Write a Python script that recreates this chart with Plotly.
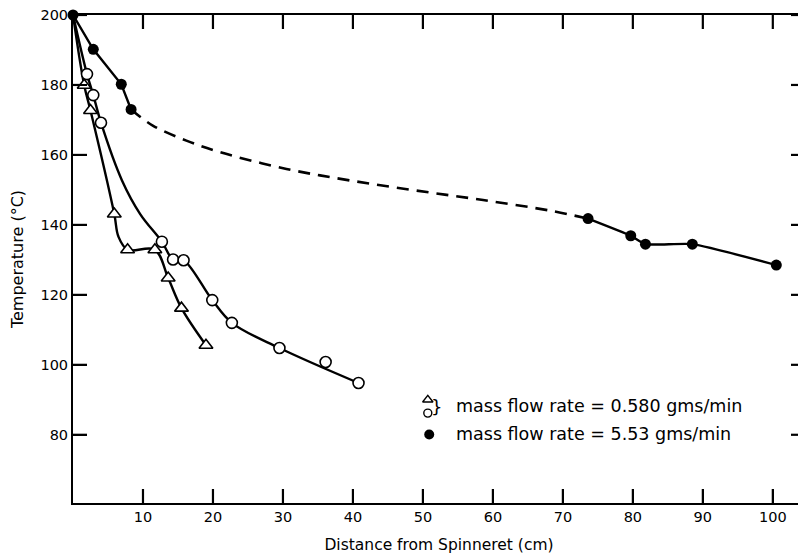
import plotly.graph_objects as go

# 0.580 gms/min, triangles
tri_x = [0, 1.6, 2.5, 5.9, 7.8, 11.7, 13.6, 15.5, 19.0]
tri_y = [200, 179.9, 172.7, 143.1, 132.9, 132.9, 124.8, 116.2, 105.6]

# 0.580 gms/min, open circles
circ_x = [0, 2.0, 2.9, 4.0, 12.7, 14.3, 15.8, 19.9, 22.7, 29.5, 36.1, 40.8]
circ_y = [200, 183.1, 177.1, 169.2, 135.2, 130.1, 129.9, 118.5, 112.0, 104.8, 100.8, 94.8]

# hand-drawn curve through the open circles
circ_curve_x = [0, 2.0, 2.9, 4.0, 7.0, 9.6, 12.7, 14.3, 15.8, 19.9, 22.7, 29.5, 40.8]
circ_curve_y = [200, 183.1, 177.1, 169.2, 152.7, 143.1, 135.2, 130.1, 129.9, 118.5, 112.0, 104.8, 94.8]

# hand-drawn curve through the triangles
tri_curve_x = [0, 1.6, 2.5, 5.9, 6.5, 7.8, 11.7, 13.6, 15.5, 19.0]
tri_curve_y = [200, 179.9, 172.7, 143.1, 136.6, 132.9, 132.9, 124.8, 116.2, 105.6]

# 5.53 gms/min, filled circles
fill_x = [0, 2.9, 6.9, 8.3, 73.6, 79.7, 81.8, 88.5, 100.5]
fill_y = [200, 190.2, 180.2, 173.0, 141.8, 136.9, 134.5, 134.5, 128.5]

# dashed extrapolation curve between measured 5.53 segments
dash_x = [8.3, 11.4, 16.2, 21.0, 30.5, 39.6, 49.1, 58.6, 68.1, 73.6]
dash_y = [173.0, 168.4, 164.1, 160.8, 156.0, 152.7, 149.8, 147.1, 144.1, 141.8]

x_ticks = [10, 20, 30, 40, 50, 60, 70, 80, 90, 100]
y_ticks = [80, 100, 120, 140, 160, 180, 200]

legend_labels = ["mass flow rate = 0.580 gms/min", "mass flow rate = 5.53 gms/min"]

FONT = "DejaVu Sans"
X_RANGE = [0, 104.6]
Y_RANGE = [60.5, 200]
fig = go.Figure()

# inward tick marks on all four sides, one small trace per tick (~14 px long)
XT = 14 / 7.0     # tick length in x units
YT = 14 / 3.49    # tick length in y units
tick_style = dict(color="black", width=2.2)
for v in x_ticks:
    fig.add_trace(go.Scatter(x=[v, v], y=[Y_RANGE[0], Y_RANGE[0] + YT], mode="lines",
                             line=tick_style, hoverinfo="skip", showlegend=False))
    fig.add_trace(go.Scatter(x=[v, v], y=[Y_RANGE[1], Y_RANGE[1] - YT], mode="lines",
                             line=tick_style, hoverinfo="skip", showlegend=False))
for v in y_ticks:
    fig.add_trace(go.Scatter(x=[X_RANGE[0], X_RANGE[0] + XT], y=[v, v], mode="lines",
                             line=tick_style, hoverinfo="skip", showlegend=False))
    fig.add_trace(go.Scatter(x=[X_RANGE[1], X_RANGE[1] - XT], y=[v, v], mode="lines",
                             line=tick_style, hoverinfo="skip", showlegend=False))

curve = dict(color="black", width=2.4, shape="spline", smoothing=1.0)
straight = dict(color="black", width=2.4)

fig.add_trace(go.Scatter(x=dash_x, y=dash_y, mode="lines",
                         line=dict(color="black", width=2.6, dash="12px,8px", shape="spline"),
                         showlegend=False))
fig.add_trace(go.Scatter(x=fill_x[:4], y=fill_y[:4], mode="lines", line=straight, showlegend=False))
fig.add_trace(go.Scatter(x=fill_x[4:], y=fill_y[4:], mode="lines",
                         line=dict(color="black", width=2.4, shape="spline", smoothing=0.5),
                         showlegend=False))
fig.add_trace(go.Scatter(x=tri_curve_x, y=tri_curve_y, mode="lines", line=curve, showlegend=False))
fig.add_trace(go.Scatter(x=circ_curve_x, y=circ_curve_y, mode="lines", line=curve, showlegend=False))

fig.add_trace(go.Scatter(x=tri_x[1:], y=tri_y[1:], mode="markers",
                         marker=dict(symbol="triangle-up", size=12, color="white",
                                     line=dict(width=1.6, color="black")),
                         showlegend=False))
fig.add_trace(go.Scatter(x=circ_x[1:], y=circ_y[1:], mode="markers",
                         marker=dict(symbol="circle", size=11, color="white",
                                     line=dict(width=1.6, color="black")),
                         showlegend=False))
fig.add_trace(go.Scatter(x=fill_x, y=fill_y, mode="markers", cliponaxis=False,
                         marker=dict(symbol="circle", size=11, color="black"),
                         showlegend=False))

# legend symbols
fig.add_trace(go.Scatter(x=[50.7], y=[90.0], mode="markers",
                         marker=dict(symbol="triangle-up", size=9, color="white",
                                     line=dict(width=1.4, color="black")),
                         showlegend=False))
fig.add_trace(go.Scatter(x=[50.7], y=[86.2], mode="markers",
                         marker=dict(symbol="circle", size=8, color="white",
                                     line=dict(width=1.4, color="black")),
                         showlegend=False))
fig.add_trace(go.Scatter(x=[50.9], y=[80.1], mode="markers",
                         marker=dict(symbol="circle", size=10, color="black"),
                         showlegend=False))

fig.add_annotation(x=52.0, y=88.1, text="}", showarrow=False, xanchor="center",
                   font=dict(family=FONT, size=18, color="black"))
fig.add_annotation(x=54.4, y=88.1, text=legend_labels[0], showarrow=False, xanchor="left",
                   font=dict(family=FONT, size=17.5, color="black"))
fig.add_annotation(x=54.4, y=80.1, text=legend_labels[1], showarrow=False, xanchor="left",
                   font=dict(family=FONT, size=17.5, color="black"))

axis_common = dict(showgrid=False, zeroline=False, showline=True, linecolor="black",
                   linewidth=2, mirror=True, ticks="inside", ticklen=14, tickwidth=2,
                   tickcolor="black", automargin=False, ticklabeloverflow="allow",
                   tickfont=dict(family=FONT, size=14.5, color="black"))

fig.update_xaxes(range=X_RANGE, tickmode="array", tickvals=x_ticks,
                 ticktext=[str(v) for v in x_ticks],
                 title=dict(text="Distance from Spinneret (cm)",
                            font=dict(family=FONT, size=15.5, color="black")),
                 **axis_common)
fig.update_yaxes(range=Y_RANGE, tickmode="array", tickvals=y_ticks,
                 ticktext=[str(v) for v in y_ticks],
                 title=dict(text="Temperature (°C)",
                            font=dict(family=FONT, size=16, color="black")),
                 **axis_common)

fig.update_layout(width=798, height=550, plot_bgcolor="white", paper_bgcolor="white",
                  margin=dict(l=65, r=1, t=7, b=55), showlegend=False)

fig.write_html("out.html")
